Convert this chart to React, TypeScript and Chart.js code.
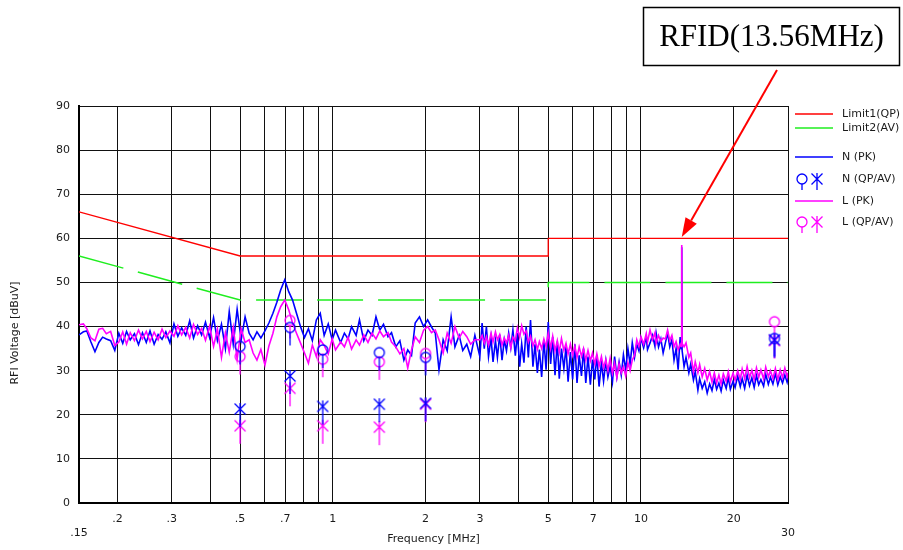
import React, { useEffect, useRef } from "react";
import { Chart, registerables } from "chart.js";

Chart.register(...registerables);

// ---------------- data ----------------
// Peak traces, 0.15 – 2.9 MHz
const freqA = [
  0.150, 0.155, 0.159, 0.164, 0.169, 0.174, 0.179, 0.184, 0.190, 0.196,
  0.202, 0.208, 0.214, 0.220, 0.227, 0.234, 0.241, 0.248, 0.255, 0.263,
  0.271, 0.279, 0.287, 0.296, 0.305, 0.314, 0.323, 0.333, 0.343, 0.353,
  0.364, 0.375, 0.386, 0.398, 0.410, 0.422, 0.435, 0.448, 0.461, 0.475,
  0.489, 0.504, 0.519, 0.535, 0.551, 0.567, 0.584, 0.602, 0.620, 0.639,
  0.658, 0.677, 0.698, 0.719, 0.740, 0.762, 0.785, 0.809, 0.833, 0.858,
  0.884, 0.910, 0.937, 0.966, 0.995, 1.02, 1.06, 1.09, 1.12, 1.15,
  1.19, 1.22, 1.26, 1.30, 1.34, 1.38, 1.42, 1.46, 1.51, 1.55,
  1.60, 1.65, 1.70, 1.75, 1.80, 1.85, 1.91, 1.97, 2.03, 2.09,
  2.15, 2.21, 2.28, 2.35, 2.42, 2.49, 2.57, 2.64, 2.72, 2.80,
  2.89,
];
const nPkA = [
  38.1, 38.8, 39.0, 36.5, 34.3, 36.4, 37.6, 37.2, 36.8, 34.6,
  38.5, 36.2, 38.9, 37.0, 38.4, 35.9, 38.6, 36.4, 39.0, 36.0,
  38.2, 37.1, 38.8, 36.3, 40.6, 37.8, 39.7, 38.0, 41.3, 37.4,
  40.2, 38.1, 41.0, 37.5, 42.0, 36.8, 40.5, 35.0, 43.4, 36.0,
  43.9, 37.0, 42.2, 38.5, 37.0, 38.8, 37.4, 39.0, 40.8, 43.0,
  45.5, 48.3, 50.6, 47.9, 46.0, 43.0, 40.0, 37.5, 39.5, 36.8,
  41.5, 43.0, 38.0, 40.6, 37.0, 39.2, 36.4, 38.5, 37.2, 40.0,
  38.0, 41.5, 36.8, 39.2, 38.0, 42.2, 39.2, 40.5, 37.7, 38.6,
  35.4, 36.8, 32.4, 34.7, 33.5, 40.8, 42.2, 40.0, 41.5, 39.9,
  38.5, 30.2, 37.0, 34.5, 42.2, 35.4, 38.0, 34.6, 36.0, 33.2,
  38.0,
];
const lPkA = [
  40.4, 40.6, 39.5, 37.4, 36.8, 39.4, 39.6, 38.4, 38.9, 35.7,
  36.5, 38.8, 36.0, 38.6, 36.8, 39.2, 37.2, 38.9, 36.6, 38.7,
  37.0, 39.4, 37.5, 39.0, 37.8, 40.2, 38.1, 39.8, 37.4, 40.5,
  38.2, 39.6, 36.9, 40.1, 35.5, 39.4, 33.0, 38.6, 34.2, 39.8,
  32.6, 39.5, 36.4, 37.0, 34.0, 32.4, 34.8, 31.3, 35.6, 38.5,
  42.2, 44.5, 46.0, 43.8, 40.8, 38.5, 36.3, 34.0, 31.7, 35.8,
  33.2, 37.0, 35.7, 33.8, 37.2, 34.7, 36.5, 35.4, 37.6, 34.9,
  37.0, 35.8, 38.1, 36.4, 38.5, 37.2, 39.0, 37.7, 38.6, 36.5,
  35.4, 33.8, 35.0, 30.6, 34.7, 37.7, 36.4, 39.2, 40.0, 38.6,
  39.2, 37.0, 34.0, 38.5, 36.2, 40.0, 37.4, 38.9, 37.7, 36.0,
  37.0,
];

// Peak traces, 3 – 11.8 MHz
const freqB = [
  3.00, 3.05, 3.10, 3.15, 3.20, 3.26, 3.31, 3.37, 3.42, 3.48,
  3.54, 3.60, 3.66, 3.72, 3.78, 3.84, 3.91, 3.97, 4.04, 4.10,
  4.17, 4.24, 4.31, 4.38, 4.46, 4.53, 4.61, 4.68, 4.76, 4.84,
  4.92, 5.00, 5.09, 5.17, 5.26, 5.35, 5.43, 5.52, 5.62, 5.71,
  5.80, 5.90, 6.00, 6.10, 6.20, 6.30, 6.41, 6.51, 6.62, 6.73,
  6.85, 6.96, 7.08, 7.19, 7.31, 7.44, 7.56, 7.69, 7.81, 7.94,
  8.08, 8.21, 8.35, 8.49, 8.63, 8.77, 8.92, 9.07, 9.22, 9.37,
  9.53, 9.69, 9.85, 10.0, 10.2, 10.4, 10.5, 10.7, 10.9, 11.1,
  11.2, 11.4, 11.6, 11.8,
];
const nPkB = [
  33.2, 40.8, 35.0, 40.0, 33.2, 37.5, 32.0, 36.8, 33.0, 38.2,
  32.4, 37.0, 34.5, 38.5, 35.2, 39.2, 33.4, 38.5, 30.9, 36.1,
  31.8, 40.0, 33.0, 41.5, 30.9, 36.0, 29.5, 34.8, 28.6, 37.0,
  30.2, 41.0, 31.5, 37.7, 29.0, 36.6, 28.2, 35.0, 30.5, 35.4,
  27.5, 34.2, 28.0, 36.0, 27.2, 33.5, 28.8, 35.0, 27.2, 33.2,
  26.8, 32.5, 28.0, 33.6, 26.4, 31.8, 27.6, 32.2, 28.6, 31.0,
  27.4, 33.2, 28.6, 32.0, 29.0, 33.6, 30.2, 35.0, 31.5, 36.3,
  33.0, 36.0, 34.5, 37.3, 35.2, 37.7, 34.8, 36.3, 38.0, 35.5,
  38.5, 35.4, 37.2, 34.0,
];
const lPkB = [
  37.0, 38.0, 36.2, 37.7, 35.8, 38.5, 36.5, 38.8, 37.0, 38.2,
  35.8, 37.4, 36.3, 38.0, 35.2, 37.6, 36.8, 39.7, 37.5, 40.2,
  38.3, 39.0, 36.5, 37.8, 35.6, 37.0, 34.8, 36.6, 35.0, 37.2,
  35.4, 38.5, 35.0, 37.8, 34.5, 36.8, 34.2, 37.3, 34.6, 36.2,
  33.8, 36.0, 33.5, 35.6, 33.0, 35.4, 33.2, 35.0, 32.4, 34.6,
  32.2, 34.0, 31.5, 33.8, 31.0, 33.2, 30.6, 32.5, 30.0, 32.8,
  29.4, 31.7, 28.4, 31.5, 29.5, 30.9, 28.8, 31.8, 30.0, 32.4,
  33.5, 37.0, 35.5, 37.7, 36.0, 38.4, 36.5, 39.2, 37.0, 38.6,
  36.2, 38.0, 36.6, 37.4,
];

// Peak traces, 12 – 30 MHz (13.56 MHz RFID carrier)
const freqC = [
  12.0, 12.2, 12.4, 12.6, 12.8, 13.0, 13.2, 13.4, 13.5, 13.56,
  13.6, 13.8, 14.0, 14.3, 14.5, 14.8, 15.0, 15.3, 15.5, 15.8,
  16.1, 16.4, 16.7, 17.0, 17.3, 17.6, 17.9, 18.2, 18.5, 18.9,
  19.2, 19.5, 19.9, 20.2, 20.6, 21.0, 21.3, 21.7, 22.1, 22.5,
  22.9, 23.3, 23.7, 24.1, 24.5, 25.0, 25.4, 25.9, 26.3, 26.8,
  27.3, 27.8, 28.3, 28.8, 29.3, 29.8, 30.0,
];
const nPkC = [
  36.3, 38.5, 35.4, 37.0, 32.4, 35.0, 30.2, 37.6, 35.0, 58.0,
  34.5, 30.9, 33.0, 29.5, 31.5, 27.9, 29.8, 25.6, 28.2, 26.0,
  27.5, 24.9, 27.0, 25.5, 28.0, 25.8, 27.2, 25.4, 27.9, 26.0,
  28.5, 25.8, 27.6, 26.2, 28.8, 26.4, 28.2, 26.0, 29.0, 26.6,
  28.4, 26.2, 28.9, 26.8, 28.0, 26.5, 29.2, 26.9, 28.5, 27.0,
  29.4, 26.8, 28.6, 27.2, 29.0, 27.4, 28.5,
];
const lPkC = [
  37.2, 39.2, 36.8, 38.0, 35.4, 36.6, 34.7, 36.0, 35.5, 58.5,
  36.2, 35.4, 36.3, 33.0, 34.0, 29.7, 32.0, 29.5, 31.4, 28.6,
  30.5, 27.9, 29.8, 27.4, 29.5, 27.2, 29.0, 27.0, 29.3, 27.6,
  29.8, 27.5, 29.5, 27.8, 30.0, 28.0, 30.4, 28.2, 30.9, 28.4,
  30.1, 28.0, 30.6, 28.5, 30.2, 28.1, 30.8, 28.6, 30.0, 28.2,
  30.5, 28.0, 30.2, 28.4, 30.6, 28.6, 29.5,
];

// Limit lines
const limitFreq = [0.15, 0.5, 5, 5, 30];
const limit1Val = [66, 56, 56, 60, 60];
const limit2Val = [56, 46, 46, 50, 50];

// QP / AV measurement points
const qpFreq = [0.5, 0.726, 0.927, 1.415, 2.0, 27.12];
const nQpVal = [35.5, 39.8, 34.7, 34.1, 33.0, 37.3];
const nAvVal = [21.3, 28.8, 21.9, 22.4, 22.6, 37.0];
const lQpVal = [33.2, 41.4, 32.6, 32.0, 33.9, 41.1];
const lAvVal = [17.5, 26.0, 17.5, 17.2, 22.4, 36.8];

// Axes
const xTickValues = [0.15, 0.2, 0.3, 0.4, 0.5, 0.6, 0.7, 0.8, 0.9, 1, 2, 3, 4, 5, 6, 7, 8, 9, 10, 20, 30];
const xTickText: (string | string[])[] = [
  ["", ".15"], ".2", ".3", "", ".5", "", ".7", "", "", "1", "2", "3", "", "5", "", "7", "", "", "10", "20", ["", "30"],
];
const yMin = 0;
const yMax = 90;
const yStep = 10;
const xTitle = "Frequency [MHz]";
const yTitle = "RFI Voltage [dBuV]";

const rfidLabel = "RFID(13.56MHz)";
const rfidFreq = 13.56;
const rfidLevel = 60.3;

// ---------------- styles ----------------
const RED = "#ff0000";
const GREEN = "#1fee1f";
const BLUE = "#0000ff";
const MAGENTA = "#ff00ff";
const TEXT = "#1a1a1a";
const FONT = "'DejaVu Sans', Verdana, sans-serif";

function pts(xs: number[], ys: number[]) {
  return xs.map((x, i) => ({ x, y: ys[i] }));
}

function makeSymbol(kind: "circle" | "cross", color: string, stem: number) {
  const c = document.createElement("canvas");
  c.width = 14;
  c.height = 2 * (stem + 2);
  const ctx = c.getContext("2d")!;
  const cx = 7;
  const cy = stem + 2;
  ctx.strokeStyle = color;
  ctx.lineWidth = 1.3;
  if (kind === "circle") {
    ctx.beginPath();
    ctx.arc(cx, cy, 5, 0, Math.PI * 2);
    ctx.stroke();
    ctx.beginPath();
    ctx.moveTo(cx, cy + 5);
    ctx.lineTo(cx, cy + stem);
    ctx.stroke();
  } else {
    ctx.beginPath();
    ctx.moveTo(cx - 5.5, cy - 5.5);
    ctx.lineTo(cx + 5.5, cy + 5.5);
    ctx.moveTo(cx + 5.5, cy - 5.5);
    ctx.lineTo(cx - 5.5, cy + 5.5);
    ctx.moveTo(cx, cy - 6);
    ctx.lineTo(cx, cy + stem);
    ctx.stroke();
  }
  return c;
}

export default function App() {
  const ref = useRef<HTMLCanvasElement>(null);

  useEffect(() => {
    document.body.style.margin = "0";
    const canvas = ref.current!;

    const sym = {
      nCircle: makeSymbol("circle", BLUE, 18),
      nCross: makeSymbol("cross", BLUE, 18),
      lCircle: makeSymbol("circle", MAGENTA, 18),
      lCross: makeSymbol("cross", MAGENTA, 18),
      nCircleL: makeSymbol("circle", BLUE, 11),
      nCrossL: makeSymbol("cross", BLUE, 11),
      lCircleL: makeSymbol("circle", MAGENTA, 11),
      lCrossL: makeSymbol("cross", MAGENTA, 11),
    };

    const legendRows = [
      { label: "Limit1(QP)", y: 114, color: RED, kind: "line" },
      { label: "Limit2(AV)", y: 128, color: GREEN, kind: "line" },
      { label: "N (PK)", y: 157, color: BLUE, kind: "line" },
      { label: "N (QP/AV)", y: 179, color: BLUE, kind: "symN" },
      { label: "L (PK)", y: 201, color: MAGENTA, kind: "line" },
      { label: "L (QP/AV)", y: 222, color: MAGENTA, kind: "symL" },
    ];

    const overlay = {
      id: "overlay",
      afterDraw(chart: any) {
        const { ctx, scales } = chart;
        ctx.save();

        // y axis title
        ctx.save();
        ctx.fillStyle = TEXT;
        ctx.font = `11px ${FONT}`;
        ctx.textAlign = "center";
        ctx.textBaseline = "middle";
        ctx.translate(15, 333);
        ctx.rotate(-Math.PI / 2);
        ctx.fillText(yTitle, 0, 0);
        ctx.restore();

        // legend
        ctx.font = `11px ${FONT}`;
        ctx.textAlign = "left";
        ctx.textBaseline = "middle";
        for (const r of legendRows) {
          if (r.kind === "line") {
            ctx.strokeStyle = r.color;
            ctx.lineWidth = 1.6;
            ctx.beginPath();
            ctx.moveTo(795, r.y);
            ctx.lineTo(833, r.y);
            ctx.stroke();
          } else {
            const c1 = r.kind === "symN" ? sym.nCircleL : sym.lCircleL;
            const c2 = r.kind === "symN" ? sym.nCrossL : sym.lCrossL;
            ctx.drawImage(c1, 802 - c1.width / 2, r.y - c1.height / 2);
            ctx.drawImage(c2, 817 - c2.width / 2, r.y - c2.height / 2);
          }
          ctx.fillStyle = TEXT;
          ctx.fillText(r.label, 842, r.y);
        }

        // RFID annotation box
        ctx.strokeStyle = "#000";
        ctx.lineWidth = 1.5;
        ctx.strokeRect(643.5, 7.5, 256, 58);
        ctx.fillStyle = "#000";
        ctx.font = "31px 'Liberation Serif', 'Times New Roman', serif";
        ctx.textAlign = "center";
        ctx.textBaseline = "middle";
        ctx.fillText(rfidLabel, 771.5, 38);

        // arrow to the carrier
        const tx = scales.x.getPixelForValue(rfidFreq);
        const ty = scales.y.getPixelForValue(rfidLevel);
        const sx = 777;
        const sy = 70;
        const ang = Math.atan2(ty - sy, tx - sx);
        const hl = 19;
        const hw = 6.5;
        const bx = tx - hl * Math.cos(ang);
        const by = ty - hl * Math.sin(ang);
        ctx.strokeStyle = RED;
        ctx.fillStyle = RED;
        ctx.lineWidth = 2;
        ctx.beginPath();
        ctx.moveTo(sx, sy);
        ctx.lineTo(bx, by);
        ctx.stroke();
        ctx.beginPath();
        ctx.moveTo(tx, ty);
        ctx.lineTo(bx + hw * Math.sin(ang), by - hw * Math.cos(ang));
        ctx.lineTo(bx - hw * Math.sin(ang), by + hw * Math.cos(ang));
        ctx.closePath();
        ctx.fill();

        ctx.restore();
      },
    };

    const nPk = [...nPkA, ...nPkB, ...nPkC];
    const lPk = [...lPkA, ...lPkB, ...lPkC];
    const freqs = [...freqA, ...freqB, ...freqC];

    const markerDs = (vals: number[], img: HTMLCanvasElement, label: string) => ({
      label,
      data: pts(qpFreq, vals),
      showLine: false,
      pointStyle: img,
      pointRadius: 5,
      pointHoverRadius: 5,
      order: 0,
    });

    const chart = new Chart(canvas, {
      type: "line",
      data: {
        datasets: [
          {
            label: "Limit1(QP)",
            data: pts(limitFreq, limit1Val),
            borderColor: RED,
            borderWidth: 1.3,
            pointRadius: 0,
            order: 3,
          },
          {
            label: "Limit2(AV)",
            data: pts(limitFreq, limit2Val),
            borderColor: GREEN,
            borderWidth: 1.5,
            borderDash: [46, 15],
            pointRadius: 0,
            order: 3,
          },
          {
            label: "N (PK)",
            data: pts(freqs, nPk),
            borderColor: BLUE,
            borderWidth: 1.6,
            pointRadius: 0,
            order: 2,
          },
          {
            label: "L (PK)",
            data: pts(freqs, lPk),
            borderColor: MAGENTA,
            borderWidth: 1.6,
            pointRadius: 0,
            order: 1,
          },
          markerDs(nQpVal, sym.nCircle, "N (QP)"),
          markerDs(nAvVal, sym.nCross, "N (AV)"),
          markerDs(lQpVal, sym.lCircle, "L (QP)"),
          markerDs(lAvVal, sym.lCross, "L (AV)"),
        ] as any,
      },
      options: {
        responsive: false,
        devicePixelRatio: 1,
        animation: false,
        events: [],
        layout: { padding: { left: 0, right: 115, top: 106, bottom: 0 } },
        plugins: {
          legend: { display: false },
          tooltip: { enabled: false },
        },
        scales: {
          x: {
            type: "logarithmic",
            min: 0.15,
            max: 30,
            afterBuildTicks: (s: any) => {
              s.ticks = xTickValues.map((v) => ({ value: v }));
            },
            afterFit: (s: any) => {
              s.height = 47;
            },
            ticks: {
              autoSkip: false,
              maxRotation: 0,
              minRotation: 0,
              padding: 10,
              color: TEXT,
              font: { family: FONT, size: 11 },
              callback: (_v: any, i: number) => xTickText[i],
            },
            grid: { color: "#111", lineWidth: 1, drawTicks: false },
            border: { color: "#000", width: 2 },
            title: {
              display: true,
              text: xTitle,
              color: TEXT,
              font: { family: FONT, size: 11 },
              padding: { top: 0, bottom: 4 },
            },
          },
          y: {
            type: "linear",
            min: yMin,
            max: yMax,
            afterFit: (s: any) => {
              s.width = 79;
            },
            ticks: {
              stepSize: yStep,
              padding: 9,
              color: TEXT,
              font: { family: FONT, size: 11 },
            },
            grid: { color: "#111", lineWidth: 1, drawTicks: false },
            border: { color: "#000", width: 2 },
          },
        },
      } as any,
      plugins: [overlay],
    });

    return () => chart.destroy();
  }, []);

  return (
    <div style={{ width: 903, height: 550, background: "#fff" }}>
      <canvas ref={ref} width={903} height={550} style={{ display: "block" }} />
    </div>
  );
}
